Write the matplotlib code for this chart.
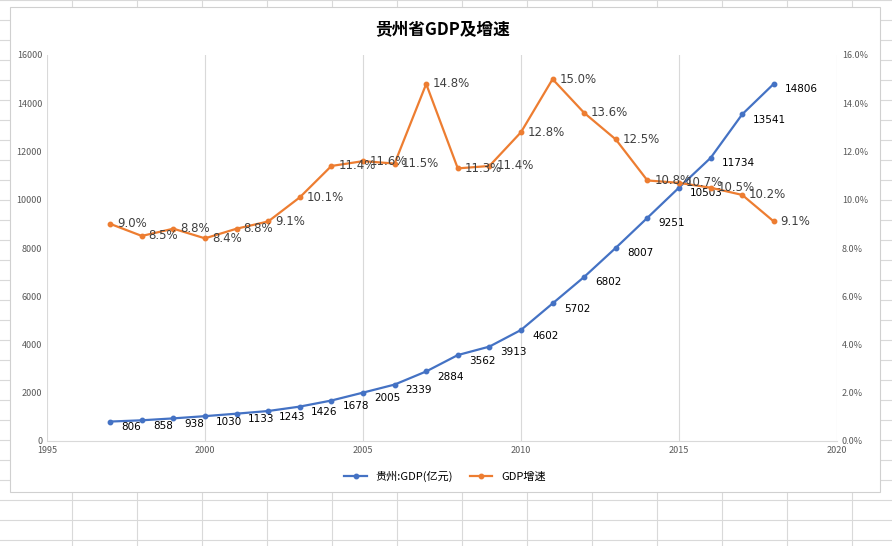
import matplotlib
matplotlib.use("Agg")
import matplotlib.pyplot as plt
from matplotlib import font_manager as fm
from matplotlib.patches import Rectangle
from matplotlib.lines import Line2D
from matplotlib.ticker import FuncFormatter

years = list(range(1997, 2019))
gdp = [806, 858, 938, 1030, 1133, 1243, 1426, 1678, 2005, 2339, 2884, 3562, 3913, 4602, 5702, 6802, 8007, 9251, 10503, 11734, 13541, 14806]
growth = [9.0, 8.5, 8.8, 8.4, 8.8, 9.1, 10.1, 11.4, 11.6, 11.5, 14.8, 11.3, 11.4, 12.8, 15.0, 13.6, 12.5, 10.8, 10.7, 10.5, 10.2, 9.1]
title = "贵州省GDP及增速"
names = ["贵州:GDP(亿元)", "GDP增速"]

cjk = [f.name for f in fm.fontManager.ttflist if "CJK" in f.name]
pref = [n for n in cjk if "SC" in n] or cjk
plt.rcParams["font.family"] = (pref[:1] if pref else []) + ["DejaVu Sans"]
W, H = 892, 546
fig = plt.figure(figsize=(W/100, H/100), dpi=100)

for y in range(0, H, 20):
    fig.add_artist(Line2D([0, 1], [1 - y/H]*2, color="#d9d9d9", lw=0.8, zorder=0))
for x in range(72, W, 65):
    fig.add_artist(Line2D([x/W]*2, [0, 1], color="#d9d9d9", lw=0.8, zorder=0))
fig.add_artist(Rectangle((10/W, 1-492/H), 870/W, 485/H, facecolor="white",
                         edgecolor="#d0d0d0", lw=0.8, zorder=1))

ax = fig.add_axes([47/W, 1-441/H, 790/W, 386/H], zorder=2)
ax2 = ax.twinx()
ax.patch.set_alpha(0)
blue, orange = "#4472c4", "#ed7d31"
ax.plot(years, gdp, color=blue, lw=1.6, marker="o", ms=3.2, zorder=3)
ax2.plot(years, growth, color=orange, lw=1.6, marker="o", ms=3.2, zorder=3)
for x, v in zip(years, gdp):
    ax.annotate(f"{v}", (x, v), xytext=(8, -4), textcoords="offset points",
                fontsize=7.5, va="center", ha="left", family="DejaVu Sans")
for x, v in zip(years, growth):
    ax2.annotate(f"{v:.1f}%", (x, v), xytext=(5, 0), textcoords="offset points",
                 fontsize=8.5, color="#404040", va="center", ha="left", family="DejaVu Sans")

ax.set_xlim(1995, 2020)
ax.set_ylim(0, 16000)
ax2.set_ylim(0, 16)
ax.set_xticks(range(1995, 2021, 5))
ax.set_yticks(range(0, 16001, 2000))
ax2.set_yticks(range(0, 17, 2))
ax2.yaxis.set_major_formatter(FuncFormatter(lambda v, p: f"{v:.1f}%"))
ax.grid(axis="x", color="#d9d9d9", lw=0.8)
for a in (ax, ax2):
    for s in a.spines.values():
        s.set_visible(False)
    a.tick_params(length=0, labelsize=6.5, labelcolor="#595959")
ax.spines["bottom"].set_visible(True)
ax.spines["bottom"].set_color("#d9d9d9")

fig.text(443/W, 1-29/H, title, ha="center", va="center", fontsize=12, fontweight="bold")
handles = [Line2D([], [], color=blue, lw=1.6, marker="o", ms=3.2),
           Line2D([], [], color=orange, lw=1.6, marker="o", ms=3.2)]
fig.legend(handles, names, loc="center", bbox_to_anchor=(445/W, 1-476/H), ncol=2,
           frameon=False, fontsize=8, handlelength=2, columnspacing=1.5)
fig.savefig("out.png", dpi=100)
